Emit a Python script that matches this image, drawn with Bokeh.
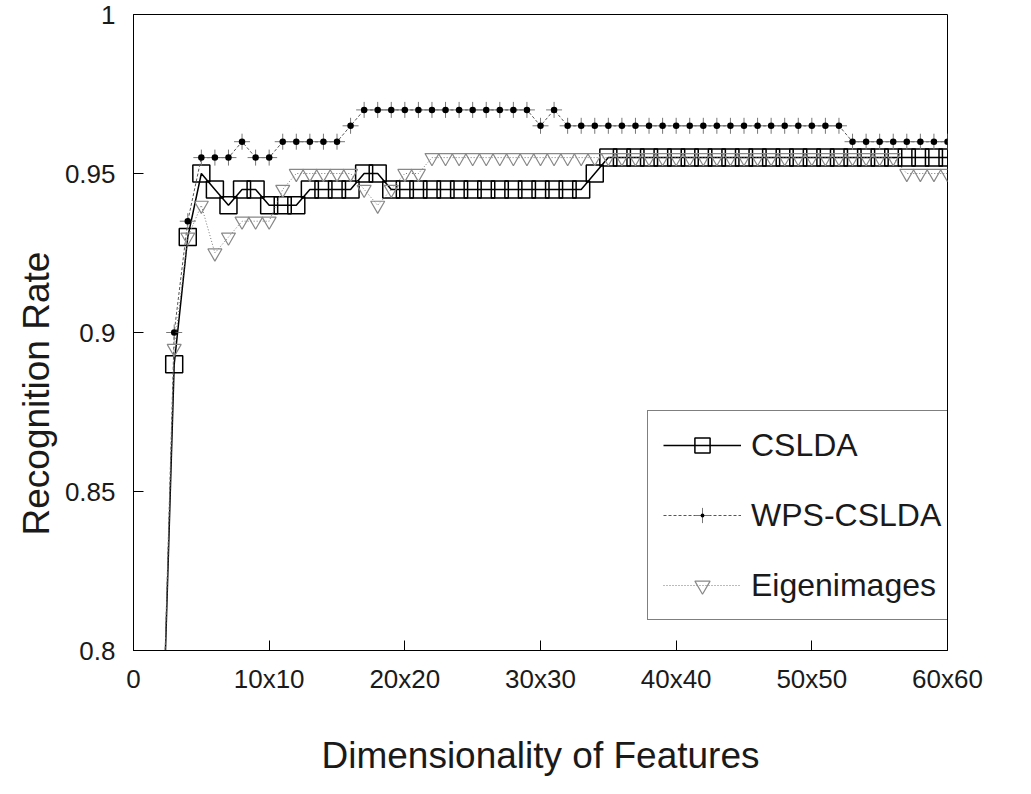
from bokeh.plotting import figure
from bokeh.models import FixedTicker, Legend, LegendItem, Title
from bokeh.embed import file_html
from bokeh.resources import INLINE

# ---------------- data ----------------
dims = [2, 3, 4, 5, 6, 7, 8, 9, 10, 11, 12, 13, 14, 15, 16, 17, 18, 19, 20,
        21, 22, 23, 24, 25, 26, 27, 28, 29, 30, 31, 32, 33, 34, 35, 36, 37, 38, 39, 40,
        41, 42, 43, 44, 45, 46, 47, 48, 49, 50, 51, 52, 53, 54, 55, 56, 57, 58, 59, 60]

cslda = [0.75, 0.89, 0.93, 0.95, 0.945, 0.94, 0.945, 0.945, 0.94, 0.94, 0.94,
         0.945, 0.945, 0.945, 0.945, 0.95, 0.95,
         0.945, 0.945, 0.945, 0.945, 0.945, 0.945, 0.945, 0.945, 0.945, 0.945,
         0.945, 0.945, 0.945, 0.945, 0.945,
         0.95,
         0.955, 0.955, 0.955, 0.955, 0.955, 0.955, 0.955, 0.955, 0.955, 0.955,
         0.955, 0.955, 0.955, 0.955, 0.955, 0.955, 0.955, 0.955, 0.955, 0.955,
         0.955, 0.955, 0.955, 0.955, 0.955, 0.955]

wps_cslda = [0.75, 0.90, 0.935, 0.955, 0.955, 0.955, 0.96, 0.955, 0.955,
             0.96, 0.96, 0.96, 0.96, 0.96,
             0.965,
             0.97, 0.97, 0.97, 0.97, 0.97, 0.97, 0.97, 0.97, 0.97, 0.97, 0.97, 0.97, 0.97,
             0.965, 0.97,
             0.965, 0.965, 0.965, 0.965, 0.965, 0.965, 0.965, 0.965, 0.965, 0.965,
             0.965, 0.965, 0.965, 0.965, 0.965, 0.965, 0.965, 0.965, 0.965, 0.965, 0.965,
             0.96, 0.96, 0.96, 0.96, 0.96, 0.96, 0.96, 0.96]

eigenimages = [0.75, 0.895, 0.93, 0.94, 0.925, 0.93, 0.935, 0.935, 0.935, 0.945,
               0.95, 0.95, 0.95, 0.95, 0.95,
               0.945, 0.94, 0.945, 0.95, 0.95,
               0.955, 0.955, 0.955, 0.955, 0.955, 0.955, 0.955, 0.955, 0.955, 0.955,
               0.955, 0.955, 0.955, 0.955, 0.955, 0.955, 0.955, 0.955, 0.955, 0.955,
               0.955, 0.955, 0.955, 0.955, 0.955, 0.955, 0.955, 0.955, 0.955, 0.955,
               0.955, 0.955, 0.955, 0.955, 0.955,
               0.95, 0.95, 0.95, 0.95]

x_ticks = [0, 10, 20, 30, 40, 50, 60]
x_tick_labels = ["0", "10x10", "20x20", "30x30", "40x40", "50x50", "60x60"]
y_ticks = [0.8, 0.85, 0.9, 0.95, 1.0]
y_tick_labels = ["0.8", "0.85", "0.9", "0.95", "1"]

series_names = ["CSLDA", "WPS-CSLDA", "Eigenimages"]
x_title = "Dimensionality of Features"
y_title = "Recognition Rate"

# ---------------- figure ----------------
FONT = "Liberation Sans"
TXT = "#1a1a1a"

p = figure(width=1015, height=778, x_range=(0, 60), y_range=(0.8, 1.0),
           output_backend="svg", toolbar_location=None,
           min_border_left=133, min_border_right=68,
           min_border_top=14, min_border_bottom=121)

p.xgrid.visible = False
p.ygrid.visible = False
p.outline_line_color = "black"
p.outline_line_width = 1
p.background_fill_color = "white"
p.border_fill_color = "white"

p.xaxis.ticker = FixedTicker(ticks=x_ticks)
p.xaxis.major_label_overrides = {t: l for t, l in zip(x_ticks, x_tick_labels)}
p.yaxis.ticker = FixedTicker(ticks=y_ticks)
p.yaxis.major_label_overrides = {t: l for t, l in zip(y_ticks, y_tick_labels)}

for ax in (p.xaxis[0], p.yaxis[0]):
    ax.major_tick_in = 10
    ax.major_tick_out = 0
    ax.minor_tick_line_color = None
    ax.axis_line_color = "black"
    ax.major_tick_line_color = "black"
    ax.major_label_text_font = FONT
    ax.major_label_text_font_size = "26px"
    ax.major_label_text_color = TXT
    ax.axis_label_text_font = FONT
    ax.axis_label_text_font_size = "37px"
    ax.axis_label_text_font_style = "normal"
    ax.axis_label_text_color = TXT

p.xaxis.axis_label = x_title
p.xaxis.major_label_standoff = 13
p.yaxis.major_label_standoff = 18
p.xaxis.axis_label_standoff = 38

# y title as a side title, starting a little above the frame bottom like the reference
yt = Title(text=y_title, align="left", offset=115, text_font=FONT,
           text_font_size="37px", text_font_style="normal", text_color=TXT)
p.add_layout(yt, "left")

# CSLDA
r1_line = p.line(dims, cslda, line_color="black", line_width=1.5)
r1_mark = p.scatter(dims, cslda, marker="square", size=17, fill_color=None,
                    line_color="black", line_width=1.5)

# WPS-CSLDA
r2_line = p.line(dims, wps_cslda, line_color="#555555", line_width=1, line_dash="3 2")
r2_cross = p.scatter(dims, wps_cslda, marker="cross", size=16, line_color="#777777",
                     line_width=1)
r2_dot = p.scatter(dims, wps_cslda, marker="dot", size=26, line_color="black",
                   fill_color="black")

# Eigenimages
r3_line = p.line(dims, eigenimages, line_color="#777777", line_width=1, line_dash="1 2")
r3_mark = p.scatter(dims, eigenimages, marker="inverted_triangle", size=14,
                    fill_color=None, line_color="#888888", line_width=1.2)

legend = Legend(items=[
    LegendItem(label=series_names[0], renderers=[r1_line, r1_mark]),
    LegendItem(label=series_names[1], renderers=[r2_line, r2_cross, r2_dot]),
    LegendItem(label=series_names[2], renderers=[r3_line, r3_mark]),
], location=(514, 30))
legend.label_text_font = FONT
legend.label_text_font_size = "32px"
legend.label_text_color = TXT
legend.glyph_width = 78
legend.glyph_height = 38
legend.label_height = 38
legend.label_standoff = 10
legend.spacing = 32
legend.padding = 15
legend.margin = 0
legend.border_line_color = "black"
legend.border_line_width = 1
legend.background_fill_color = "white"
legend.background_fill_alpha = 1.0
p.add_layout(legend, "center")

open("out.html", "w").write(file_html(p, INLINE))
